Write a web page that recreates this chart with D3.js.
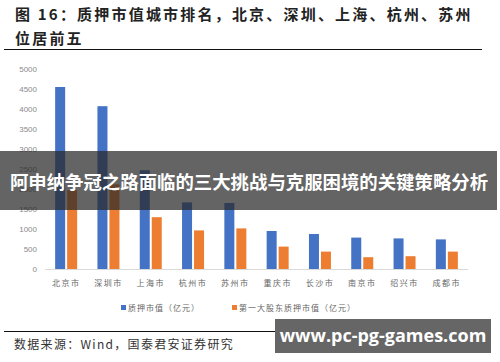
<!DOCTYPE html>
<html><head><meta charset="utf-8">
<script src="https://cdn.jsdelivr.net/npm/d3@7/dist/d3.min.js"></script>
<style>body{margin:0;background:#fff}svg{display:block}</style>
</head><body>
<svg id="c" width="500" height="362"></svg>
<script>
const categories = ["北京市","深圳市","上海市","杭州市","苏州市","重庆市","长沙市","南京市","绍兴市","成都市"];
const pledgeValue = [4550, 4070, 2470, 1665, 1650, 950, 875, 785, 765, 740];
const topHolderValue = [1970, 2115, 1295, 965, 1015, 560, 435, 295, 320, 435];
const yTicks = [0,500,1000,1500,2000,2500,3000,3500,4000,4500,5000];
const seriesNames = ["质押市值（亿元）","第一大股东质押市值（亿元）"];
const colors = ["#4472C4","#ED7D31"];

const svg = d3.select("#c");
const cjk = "'Noto Sans CJK SC', sans-serif";

// title
svg.append("text").attr("x",15).attr("y",20).attr("font-family",cjk).attr("font-size",15).attr("font-weight",600)
  .attr("fill","#222").attr("letter-spacing",2.2).text("图 16：质押市值城市排名，北京、深圳、上海、杭州、苏州");
svg.append("text").attr("x",15).attr("y",44).attr("font-family",cjk).attr("font-size",15).attr("font-weight",600)
  .attr("fill","#222").attr("letter-spacing",2.2).text("位居前五");
svg.append("line").attr("x1",4).attr("x2",482).attr("y1",49.5).attr("y2",49.5).attr("stroke","#111").attr("stroke-width",1);

const x = d3.scaleBand().domain(categories).range([45,468]).padding(0);
const y = d3.scaleLinear().domain([0,5000]).range([269,69]);

// y axis labels
svg.append("g").selectAll("text").data(yTicks).join("text")
  .attr("x",37).attr("y",d=>y(d)+3).attr("text-anchor","end")
  .attr("font-family","'Liberation Sans', sans-serif").attr("font-size",8).attr("fill","#8a8a8a").text(d=>d);

// baseline
svg.append("line").attr("x1",45).attr("x2",468).attr("y1",y(0)+0.5).attr("y2",y(0)+0.5).attr("stroke","#d9d9d9");

const bw = 10, gap = 2;
const g = svg.append("g");
[pledgeValue, topHolderValue].forEach((vals,si)=>{
  g.selectAll(".s"+si).data(vals).join("rect")
    .attr("x",(d,i)=>x(categories[i])+x.bandwidth()/2 + (si===0 ? -bw-gap/2 : gap/2))
    .attr("y",d=>y(d)).attr("width",bw).attr("height",d=>y(0)-y(d)).attr("fill",colors[si]);
});

// x labels
svg.append("g").selectAll("text").data(categories).join("text")
  .attr("x",d=>x(d)+x.bandwidth()/2).attr("y",286).attr("text-anchor","middle")
  .attr("font-family",cjk).attr("font-size",8).attr("fill","#666").attr("letter-spacing",1.5).text(d=>d);

// legend
const leg = [{x:121,i:0},{x:232,i:1}];
leg.forEach(l=>{
  svg.append("rect").attr("x",l.x).attr("y",305).attr("width",5).attr("height",5).attr("fill",colors[l.i]);
  svg.append("text").attr("x",l.x+7).attr("y",311).attr("font-family",cjk).attr("font-size",8).attr("fill","#666")
    .attr("letter-spacing",1).text(seriesNames[l.i]);
});

// bottom rule and source
svg.append("line").attr("x1",4).attr("x2",482).attr("y1",331.5).attr("y2",331.5).attr("stroke","#111");
svg.append("text").attr("x",14).attr("y",349).attr("font-family",cjk).attr("font-size",12).attr("fill","#333")
  .attr("letter-spacing",1.3).text("数据来源：Wind，国泰君安证券研究");

// overlays
svg.append("rect").attr("x",0).attr("y",151).attr("width",497).attr("height",59).attr("fill","rgba(40,40,40,0.72)");
svg.append("text").attr("x",249).attr("y",188.5).attr("text-anchor","middle").attr("font-family",cjk).attr("font-size",18.4)
  .attr("font-weight",700).attr("fill","#fff").text("阿申纳争冠之路面临的三大挑战与克服困境的关键策略分析");
svg.append("rect").attr("x",275).attr("y",319).attr("width",216).attr("height",34).attr("fill","#666");
svg.append("text").attr("x",383).attr("y",342).attr("text-anchor","middle").attr("font-family","'Open Sans', sans-serif").attr("font-size",18)
  .attr("font-weight",700).attr("fill","#fff").text("www.pc-pg-games.com");
</script>
</body></html>
